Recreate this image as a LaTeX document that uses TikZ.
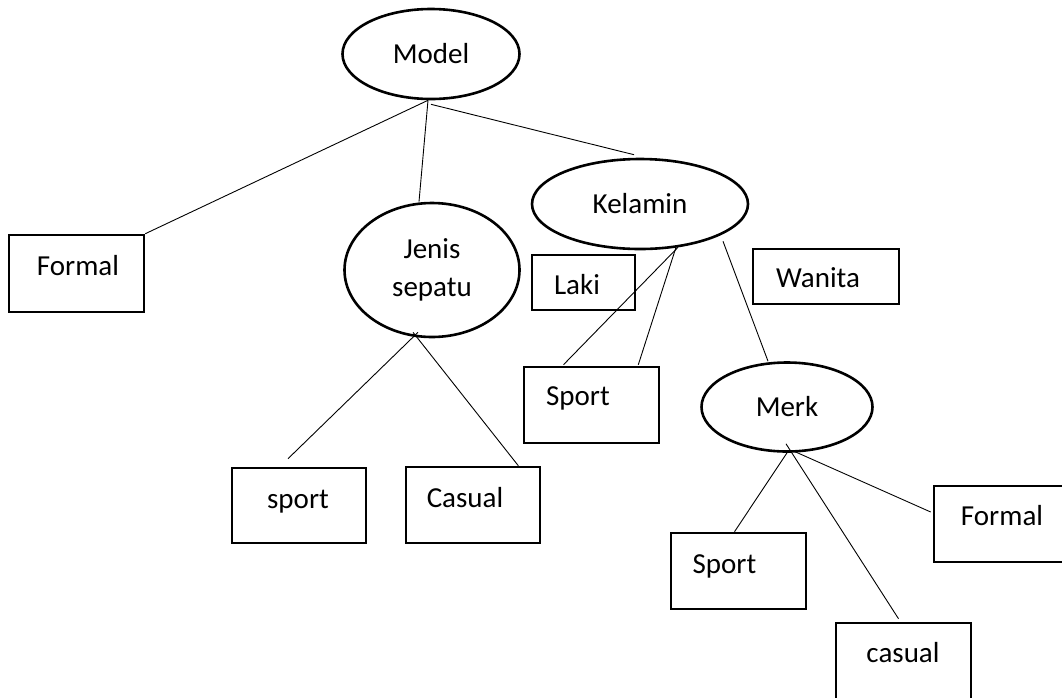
\documentclass[tikz,border=0pt]{standalone}
\usepackage{fontspec}
\setmainfont{Carlito}
\usepackage{tikz}
\usetikzlibrary{shapes.geometric, positioning, calc}

\begin{document}
\begin{tikzpicture}[
  x=1pt, y=-1pt,
  font=\fontsize{29}{38}\selectfont,
  oval/.style={draw, ellipse, line width=2.6pt, inner sep=0pt, align=center},
  box/.style={draw, rectangle, line width=2.6pt, inner sep=0pt},
  txt/.style={anchor=base, inner sep=0pt},
  edge/.style={line width=0.9pt}
]
\useasboundingbox (0,0) rectangle (1062,697);
% ellips
\node[oval, minimum width=177, minimum height=90] (model) at (431,54) {Model};
\node[oval, minimum width=175, minimum height=134] (jenis) at (432,270) {Jenis\\sepatu};
\node[oval, minimum width=216, minimum height=90] (kelamin) at (640,204) {Kelamin};
\node[oval, minimum width=171, minimum height=89] (merk) at (787,407) {Merk};
% kotak
\node[box, minimum width=135, minimum height=77] (formalL) at (76.5,273.5) {};
\node[txt] (formalLt) at (78,275) {Formal};
\node[box, minimum width=134, minimum height=75] (sportJ) at (299,505.5) {};
\node[txt] (sportJt) at (298,508) {sport};
\node[box, minimum width=134, minimum height=76] (casualJ) at (473,505) {};
\node[txt] (casualJt) at (465,507) {Casual};
\node[box, minimum width=103, minimum height=55] (laki) at (583.5,282.5) {};
\node[txt] (lakit) at (577,294) {Laki};
\node[box, minimum width=146, minimum height=55] (wanita) at (826,276.5) {};
\node[txt] (wanitat) at (818,287) {Wanita};
\node[box, minimum width=135, minimum height=76] (sportK) at (591.5,405) {};
\node[txt] (sportKt) at (578,405) {Sport};
\node[box, minimum width=135, minimum height=76] (sportM) at (738.5,571) {};
\node[txt] (sportMt) at (724.5,573) {Sport};
\node[box, minimum width=140, minimum height=76] (formalR) at (1004,524) {};
\node[txt] (formalRt) at (1002,525) {Formal};
\node[box, minimum width=135, minimum height=82] (casualM) at (903.5,664) {};
\node[txt] (casualMt) at (903,662) {casual};
% garis
\draw[edge] ($(model.south)+(-3,0)$) -- (formalL.north east);
\draw[edge] ($(model.south)+(-3,0)$) -- ($(jenis.north)+(-13,0)$);
\draw[edge] ($(model.south)+(0,4)$) -- ($(kelamin.north)+(-6,-3)$);
\draw[edge] ($(jenis.south)+(-14,-6)$) -- ($(sportJ.north)+(-11,-8)$);
\draw[edge] ($(jenis.south)+(-19,-6)$) -- ($(casualJ.north east)+(-23,0)$);
\draw[edge] ($(kelamin.south)+(38,-3)$) -- ($(sportK.north)+(-28,-1)$);
\draw[edge] ($(kelamin.south)+(36,-3)$) -- ($(sportK.north east)+(-22,-1)$);
\draw[edge] ($(kelamin.south)+(83,-9)$) -- ($(merk.north)+(-19,0)$);
\draw[edge] (merk.south) -- ($(sportM.north)+(-4,0)$);
\draw[edge] ($(merk.south)+(-1,-9)$) -- ($(casualM.north)+(-5,-3)$);
\draw[edge] ($(merk.south)+(6,-2)$) -- ($(formalR.west)+(-2,-12)$);
\end{tikzpicture}
\end{document}
